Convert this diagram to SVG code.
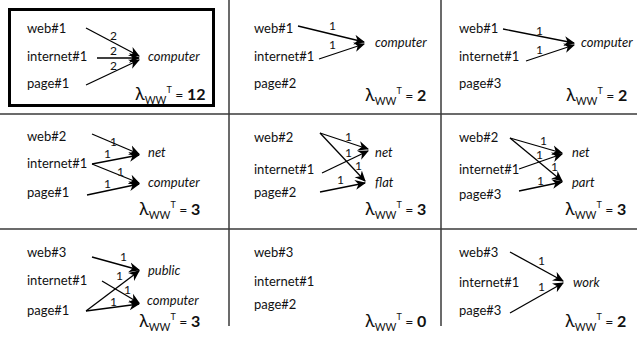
<svg xmlns="http://www.w3.org/2000/svg" width="637" height="339" viewBox="0 0 637 339">
<style>
text{font-family:Lato,"Noto Sans","DejaVu Sans",sans-serif;font-size:13px;fill:#111}
.i{font-style:italic}
.n{font-size:12px}
.lam .l{font-size:18px}
.lam .s{font-size:10.5px}
.lam .p{font-size:9px}
.lam .e{font-size:14px}
.lam .b{font-size:16px;font-weight:bold}
.g{stroke:#3a3a3a;stroke-width:1.5;fill:none}
.a{stroke:#000;stroke-width:1.3;fill:none;marker-end:url(#ah)}
</style>
<defs>
<marker id="ah" viewBox="0 0 10 10" refX="9" refY="5" markerWidth="11" markerHeight="11" markerUnits="userSpaceOnUse" orient="auto">
<path d="M0,0.5 L10,5 L0,9.5 L3,5 z" fill="#000"/>
</marker>
</defs>
<g id="grid">
<line class="g" x1="0" y1="114" x2="637" y2="114"/>
<line class="g" x1="0" y1="229" x2="637" y2="229"/>
<line class="g" x1="229" y1="0" x2="229" y2="326"/>
<line class="g" x1="441" y1="0" x2="441" y2="326"/>
<rect x="9.5" y="9.5" width="204" height="96" fill="none" stroke="#000" stroke-width="3"/>
</g>
<g id="c1">
<text x="27" y="33">web#1</text>
<text x="27" y="61">internet#1</text>
<text x="27" y="88">page#1</text>
<text class="i" x="148" y="61">computer</text>
<text class="lam" x="135" y="100"><tspan class="l">λ</tspan><tspan class="s" dy="4">WW</tspan><tspan class="p" dy="-11">T</tspan><tspan class="e" dy="7"> = </tspan><tspan class="b">12</tspan></text>
</g>
<g id="c2">
<text x="254" y="33">web#1</text>
<text x="254" y="61">internet#1</text>
<text x="254" y="88">page#2</text>
<text class="i" x="375" y="47">computer</text>
<text class="lam" x="365" y="101"><tspan class="l">λ</tspan><tspan class="s" dy="4">WW</tspan><tspan class="p" dy="-11">T</tspan><tspan class="e" dy="7"> = </tspan><tspan class="b">2</tspan></text>
</g>
<g id="c3">
<text x="459" y="33">web#1</text>
<text x="459" y="61">internet#1</text>
<text x="459" y="88">page#3</text>
<text class="i" x="581" y="47">computer</text>
<text class="lam" x="566" y="101"><tspan class="l">λ</tspan><tspan class="s" dy="4">WW</tspan><tspan class="p" dy="-11">T</tspan><tspan class="e" dy="7"> = </tspan><tspan class="b">2</tspan></text>
</g>
<g id="c4">
<text x="27" y="141">web#2</text>
<text x="27" y="168">internet#1</text>
<text x="27" y="197">page#1</text>
<text class="i" x="148" y="157">net</text>
<text class="i" x="148" y="187">computer</text>
<text class="lam" x="139" y="215"><tspan class="l">λ</tspan><tspan class="s" dy="4">WW</tspan><tspan class="p" dy="-11">T</tspan><tspan class="e" dy="7"> = </tspan><tspan class="b">3</tspan></text>
</g>
<g id="c5">
<text x="254" y="142">web#2</text>
<text x="254" y="174">internet#1</text>
<text x="254" y="197">page#2</text>
<text class="i" x="375" y="157">net</text>
<text class="i" x="375" y="187">flat</text>
<text class="lam" x="365" y="215"><tspan class="l">λ</tspan><tspan class="s" dy="4">WW</tspan><tspan class="p" dy="-11">T</tspan><tspan class="e" dy="7"> = </tspan><tspan class="b">3</tspan></text>
</g>
<g id="c6">
<text x="459" y="142">web#2</text>
<text x="459" y="174">internet#1</text>
<text x="459" y="199">page#3</text>
<text class="i" x="572" y="157">net</text>
<text class="i" x="572" y="187">part</text>
<text class="lam" x="565" y="215"><tspan class="l">λ</tspan><tspan class="s" dy="4">WW</tspan><tspan class="p" dy="-11">T</tspan><tspan class="e" dy="7"> = </tspan><tspan class="b">3</tspan></text>
</g>
<g id="c7">
<text x="27" y="257">web#3</text>
<text x="27" y="285">internet#1</text>
<text x="27" y="315">page#1</text>
<text class="i" x="148" y="275">public</text>
<text class="i" x="147" y="305">computer</text>
<text class="lam" x="139" y="327"><tspan class="l">λ</tspan><tspan class="s" dy="4">WW</tspan><tspan class="p" dy="-11">T</tspan><tspan class="e" dy="7"> = </tspan><tspan class="b">3</tspan></text>
</g>
<g id="c8">
<text x="254" y="257">web#3</text>
<text x="254" y="286">internet#1</text>
<text x="254" y="309">page#2</text>
<text class="lam" x="365" y="327"><tspan class="l">λ</tspan><tspan class="s" dy="4">WW</tspan><tspan class="p" dy="-11">T</tspan><tspan class="e" dy="7"> = </tspan><tspan class="b">0</tspan></text>
</g>
<g id="c9">
<text x="459" y="257">web#3</text>
<text x="459" y="287">internet#1</text>
<text x="459" y="315">page#3</text>
<text class="i" x="573" y="287">work</text>
<text class="lam" x="565" y="327"><tspan class="l">λ</tspan><tspan class="s" dy="4">WW</tspan><tspan class="p" dy="-11">T</tspan><tspan class="e" dy="7"> = </tspan><tspan class="b">2</tspan></text>
</g>
<g id="connectors">
<path class="a" d="M86,28 L139,56"/>
<path class="a" d="M97,58 L139,58"/>
<path class="a" d="M86,85 L139,60"/>
<text class="n" x="110" y="40">2</text>
<text class="n" x="110" y="55">2</text>
<text class="n" x="110" y="70">2</text>
<path class="a" d="M298,26 L364,42"/>
<path class="a" d="M319,59 L364,44"/>
<text class="n" x="329" y="30">1</text>
<text class="n" x="329" y="49">1</text>
<path class="a" d="M503,29 L574,43"/>
<path class="a" d="M526,61 L574,45"/>
<text class="n" x="536" y="35">1</text>
<text class="n" x="536" y="54">1</text>
<path class="a" d="M92,134 L139,154"/>
<path class="a" d="M92,164 L139,155"/>
<path class="a" d="M92,164 L139,183"/>
<path class="a" d="M87,195 L139,184"/>
<text class="n" x="110" y="146">1</text>
<text class="n" x="104" y="158">1</text>
<text class="n" x="117" y="176">1</text>
<text class="n" x="104" y="188">1</text>
<path class="a" d="M320,133 L368,149"/>
<path class="a" d="M320,133 L365,181"/>
<path class="a" d="M322,173 L368,151"/>
<path class="a" d="M320,192 L365,183"/>
<text class="n" x="345" y="141">1</text>
<text class="n" x="345" y="157">1</text>
<text class="n" x="355" y="170">1</text>
<text class="n" x="337" y="184">1</text>
<path class="a" d="M510,138 L562,153"/>
<path class="a" d="M510,138 L562,181"/>
<path class="a" d="M519,169 L562,154"/>
<path class="a" d="M519,191 L562,182"/>
<text class="n" x="540" y="145">1</text>
<text class="n" x="536" y="159">1</text>
<text class="n" x="551" y="171">1</text>
<text class="n" x="537" y="185">1</text>
<path class="a" d="M92,257 L139,270"/>
<path class="a" d="M102,281 L139,303"/>
<path class="a" d="M86,311 L139,271"/>
<path class="a" d="M86,311 L139,304"/>
<text class="n" x="120" y="261">1</text>
<text class="n" x="116" y="280">1</text>
<text class="n" x="124" y="294">1</text>
<text class="n" x="110" y="306">1</text>
<path class="a" d="M510,252 L563,281"/>
<path class="a" d="M510,313 L563,283"/>
<text class="n" x="538" y="265">1</text>
<text class="n" x="538" y="291">1</text>
</g>
</svg>
